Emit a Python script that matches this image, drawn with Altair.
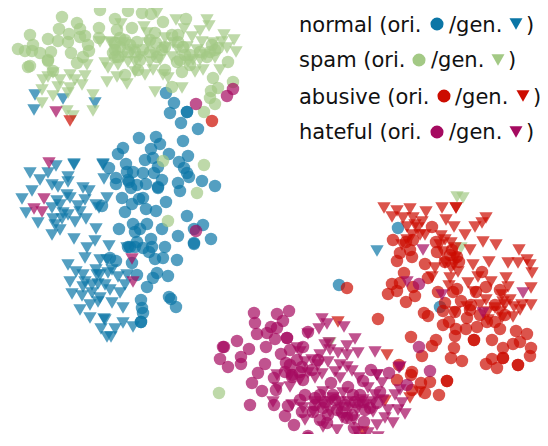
import altair as alt
import pandas as pd

NORMAL_ORI = [(166,93),(174,103),(170,113),(187,112),(187,112),(181,123),(198,129),(139,138),(156,137),(160,144),(183,141),(151,149),(123,148),(118,154),(169,154),(188,156),(145,160),(153,158),(179,162),(126,164),(158,167),(184,168),(187,173),(189,177),(109,168),(127,172),(133,172),(143,173),(154,173),(116,178),(116,184),(128,180),(129,182),(162,180),(178,183),(202,181),(215,186),(146,184),(137,185),(131,188),(158,188),(158,187),(180,191),(122,198),(143,198),(139,199),(132,204),(166,202),(146,209),(125,212),(156,211),(102,206),(187,216),(133,224),(147,224),(119,229),(162,229),(140,229),(135,232),(203,225),(194,229),(211,239),(178,236),(194,243),(194,244),(137,242),(151,239),(165,247),(152,247),(128,247),(143,248),(149,252),(130,247),(135,247),(155,259),(163,258),(177,260),(116,261),(110,258),(132,263),(157,273),(168,276),(153,278),(137,275),(147,287),(169,297),(171,299),(176,307),(141,300),(142,308),(143,313),(141,322),(141,322),(339,285),(440,307),(398,228)]
NORMAL_GEN = [(30,173),(56,166),(74,165),(74,164),(103,164),(103,165),(40,180),(48,173),(68,177),(52,185),(58,187),(68,182),(32,191),(22,199),(83,188),(89,191),(104,179),(67,195),(70,198),(57,201),(96,205),(107,198),(99,208),(85,200),(78,206),(52,208),(26,213),(63,213),(80,212),(38,223),(53,219),(62,219),(75,222),(86,219),(60,230),(52,235),(96,229),(74,239),(95,241),(109,246),(87,248),(85,258),(127,248),(100,260),(107,260),(68,265),(76,272),(96,270),(83,275),(97,275),(108,273),(118,277),(127,275),(70,282),(83,287),(98,284),(110,290),(125,285),(72,294),(82,296),(92,293),(100,298),(120,293),(112,303),(90,305),(80,310),(123,308),(98,302),(90,318),(104,319),(105,320),(123,323),(133,327),(115,329),(101,329),(107,337),(111,337),(35,95),(63,99),(95,103),(34,110),(377,251),(60,205),(68,215),(55,225),(85,282),(92,285),(100,275),(105,285),(112,270)]
SPAM_ORI = [(62,17),(100,10),(115,19),(128,11),(142,13),(151,14),(163,22),(186,19),(77,23),(59,29),(80,29),(99,28),(132,28),(117,30),(30,35),(48,39),(69,34),(85,36),(80,37),(58,41),(68,42),(33,45),(18,49),(25,51),(32,51),(40,53),(51,52),(71,53),(88,45),(89,51),(83,57),(48,60),(48,61),(77,63),(28,67),(30,66),(53,71),(99,38),(115,43),(120,47),(113,53),(115,57),(137,42),(135,52),(143,50),(155,33),(156,43),(178,35),(183,47),(180,60),(182,72),(157,57),(138,70),(125,75),(215,50),(207,57),(228,62),(213,78),(172,87),(233,82),(218,88),(211,91),(210,98),(215,104),(204,112),(163,161),(204,165),(197,193),(168,221),(219,393),(165,47),(172,35),(125,40),(128,52),(150,40),(190,55),(200,52),(212,45),(120,38),(115,50),(118,57),(130,45),(140,60),(150,52),(162,50),(178,42),(185,55),(177,62),(190,65),(210,52),(218,48),(165,70)]
SPAM_GEN = [(157,13),(176,20),(207,20),(209,26),(121,24),(144,27),(184,29),(200,31),(224,35),(234,40),(236,52),(100,42),(110,42),(147,33),(165,38),(192,37),(202,42),(222,42),(227,48),(193,60),(172,57),(105,63),(108,68),(117,77),(107,82),(127,84),(145,75),(153,70),(163,75),(168,78),(195,72),(203,70),(220,70),(155,92),(182,88),(123,57),(140,57),(160,60),(87,65),(85,76),(82,85),(70,75),(75,80),(53,73),(60,80),(43,80),(48,77),(58,87),(70,88),(42,90),(53,96),(68,93),(42,103),(93,95),(93,111),(67,111),(73,116),(112,43),(123,43),(133,50),(148,43),(173,43),(187,47),(197,50),(213,43),(200,60),(457,197),(463,198),(461,248),(330,343),(115,50),(128,62),(118,65),(135,62),(155,55),(165,48),(178,50),(188,62),(205,55),(215,58),(150,62),(135,72)]
ABUSIVE_ORI = [(212,121),(432,227),(393,240),(406,242),(413,240),(400,253),(412,257),(397,261),(425,264),(436,242),(437,252),(450,255),(457,257),(404,273),(428,278),(482,272),(392,284),(400,283),(397,291),(388,294),(413,287),(415,296),(406,302),(438,292),(457,289),(453,292),(486,287),(476,292),(445,303),(461,301),(471,305),(424,313),(428,316),(443,311),(455,312),(467,318),(449,322),(443,325),(477,327),(466,329),(456,329),(455,336),(487,322),(500,329),(516,331),(527,334),(378,319),(347,288),(411,337),(474,340),(474,340),(492,340),(436,340),(432,346),(422,356),(454,348),(451,358),(462,361),(503,348),(513,344),(520,342),(531,348),(530,356),(503,358),(503,358),(492,359),(486,364),(497,368),(518,365),(518,365),(399,365),(412,372),(447,381),(447,381),(411,375),(397,380),(421,383),(430,382),(425,393),(439,395),(412,390),(445,262),(452,250),(459,262),(410,250),(500,290),(495,305),(505,315),(495,322),(470,310),(480,315)]
ABUSIVE_GEN = [(70,121),(384,208),(397,211),(392,217),(410,209),(426,212),(442,208),(456,208),(456,208),(446,220),(403,218),(413,218),(422,222),(454,227),(407,227),(418,228),(475,227),(486,218),(482,223),(465,235),(441,236),(451,243),(483,242),(496,245),(470,250),(443,252),(420,235),(412,235),(407,240),(519,250),(518,263),(527,260),(508,263),(489,262),(473,265),(530,265),(532,273),(454,265),(445,263),(455,258),(451,268),(435,268),(478,277),(506,278),(432,277),(450,278),(491,282),(468,283),(508,287),(531,288),(449,286),(474,292),(486,300),(502,295),(503,302),(514,307),(522,305),(531,305),(467,307),(455,312),(500,312),(513,317),(502,318),(488,312),(488,320),(338,322),(387,355),(385,401),(363,432),(410,398),(420,392),(455,248),(458,272),(445,240),(480,305),(495,308),(510,300),(520,310),(505,305),(415,225),(425,235),(402,245),(440,245)]
HATEFUL_ORI = [(196,104),(227,96),(233,89),(196,231),(254,313),(277,314),(289,311),(283,321),(255,323),(271,327),(277,328),(257,334),(267,333),(275,339),(287,338),(287,338),(308,332),(237,341),(223,347),(224,347),(249,349),(266,347),(303,347),(290,350),(281,354),(241,357),(220,359),(228,367),(241,364),(265,364),(286,363),(297,360),(318,360),(302,367),(292,375),(292,377),(258,373),(274,378),(252,383),(262,391),(276,390),(303,380),(331,383),(348,387),(371,370),(389,373),(363,381),(380,392),(250,405),(274,405),(288,406),(285,416),(294,425),(302,412),(305,395),(315,398),(313,412),(323,408),(333,395),(337,410),(353,395),(347,418),(363,402),(365,410),(364,422),(354,428),(308,436),(308,438),(327,423),(377,403),(430,371),(419,347),(407,385),(419,284),(320,395),(325,402),(335,400),(345,405),(355,402),(360,395),(370,408),(315,405),(342,412),(352,415),(328,415),(320,420),(300,400),(290,365),(285,372),(300,372),(312,370)]
HATEFUL_GEN = [(49,163),(44,199),(34,209),(42,212),(132,259),(133,282),(56,112),(322,319),(327,324),(319,329),(344,327),(308,334),(355,339),(325,345),(329,343),(347,346),(338,353),(358,353),(375,352),(320,355),(328,362),(347,355),(297,348),(300,352),(305,362),(318,365),(347,367),(340,365),(322,374),(340,378),(315,378),(308,373),(277,375),(278,388),(290,387),(352,371),(359,378),(377,375),(377,375),(368,388),(382,383),(323,392),(343,393),(400,367),(400,390),(402,403),(405,414),(393,423),(377,425),(385,418),(388,410),(373,412),(273,402),(292,405),(305,420),(313,412),(333,398),(348,402),(357,410),(363,400),(347,418),(323,427),(337,430),(360,438),(378,437),(388,441),(368,433),(357,432),(373,402),(315,402),(323,405),(340,408),(303,408),(423,250),(407,282),(442,295),(483,313),(523,293),(399,368),(330,402),(340,402),(350,408),(358,405),(366,405),(330,412),(342,418),(354,420),(375,395),(395,395),(398,410),(383,400),(290,375),(300,380),(312,360),(335,372),(330,350)]

CLASSES = ["normal", "spam", "abusive", "hateful"]
COLORS = ["#0b76a6", "#a3c985", "#cc0c00", "#a50a60"]
SERIES = [("normal", "ori", NORMAL_ORI), ("normal", "gen", NORMAL_GEN),
          ("spam", "ori", SPAM_ORI), ("spam", "gen", SPAM_GEN),
          ("abusive", "ori", ABUSIVE_ORI), ("abusive", "gen", ABUSIVE_GEN),
          ("hateful", "ori", HATEFUL_ORI), ("hateful", "gen", HATEFUL_GEN)]

LEGEND_TEXT = [("normal (ori.", 299, 26), ("/gen.", 449, 26), (")", 526, 26),
               ("spam (ori.", 299, 61), ("/gen.", 431, 61), (")", 508, 61),
               ("abusive (ori.", 299, 98), ("/gen.", 455, 98), (")", 533, 98),
               ("hateful (ori.", 299, 133), ("/gen.", 449, 133), (")", 526, 133)]
LEGEND_KEYS = [("normal", "ori", 437, 24), ("normal", "gen", 516, 24),
               ("spam", "ori", 419, 60), ("spam", "gen", 498, 60),
               ("abusive", "ori", 444, 96), ("abusive", "gen", 523, 96),
               ("hateful", "ori", 437, 132), ("hateful", "gen", 516, 132)]

rows = [{"x": x, "y": y, "cls": c, "kind": k} for c, k, pts in SERIES for x, y in pts]
df = pd.DataFrame(rows)
keys = pd.DataFrame(LEGEND_KEYS, columns=["cls", "kind", "x", "y"])
texts = pd.DataFrame(LEGEND_TEXT, columns=["label", "x", "y"])

xs = alt.Scale(domain=[8, 540], range=[0, 532], nice=False, zero=False)
ys = alt.Scale(domain=[8, 434], range=[0, 426], nice=False, zero=False)
X = alt.X("x:Q", scale=xs, axis=None)
Y = alt.Y("y:Q", scale=ys, axis=None)
color = alt.Color("cls:N", scale=alt.Scale(domain=CLASSES, range=COLORS), legend=None)
shape = alt.Shape("kind:N", scale=alt.Scale(domain=["ori", "gen"], range=["circle", "triangle-down"]), legend=None)

points = alt.Chart(df).mark_point(filled=True, opacity=0.7, strokeWidth=0).encode(
    x=X, y=Y, color=color, shape=shape,
    size=alt.Size("kind:N", scale=alt.Scale(domain=["ori", "gen"], range=[155, 180]), legend=None),
    order=alt.Order("idx:Q"),
).transform_window(idx="row_number()")

key_marks = alt.Chart(keys).mark_point(filled=True, opacity=1, strokeWidth=0).encode(
    x=X, y=Y, color=color, shape=shape,
    size=alt.Size("kind:N", scale=alt.Scale(domain=["ori", "gen"], range=[170, 170]), legend=None),
)

labels = alt.Chart(texts).mark_text(
    align="left", baseline="middle", font="DejaVu Sans", fontSize=21, color="#111111"
).encode(x=X, y=Y, text="label:N")

chart = alt.layer(points, labels, key_marks).resolve_scale(size="independent").properties(
    width=532, height=426, padding=0, autosize=alt.AutoSizeParams(type="none")
).configure_view(stroke=None)

chart.save("out.html", embed_options={"renderer": "svg", "actions": False})
